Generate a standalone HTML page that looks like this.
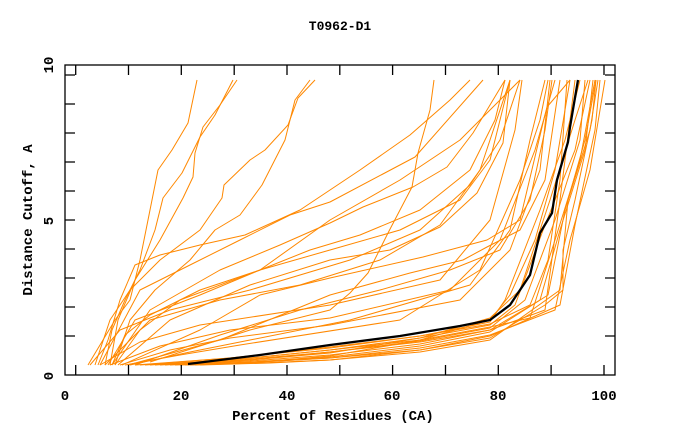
<!DOCTYPE html>
<html><head><meta charset="utf-8"><style>
html,body{margin:0;padding:0;background:#fff;}
svg text{font-family:"Liberation Mono","DejaVu Sans Mono",monospace;font-weight:bold;fill:#000;}
</style></head><body>
<svg width="680" height="440" viewBox="0 0 680 440" xmlns="http://www.w3.org/2000/svg">
<rect width="680" height="440" fill="#fff"/>
<text x="340" y="30" font-size="13" text-anchor="middle">T0962-D1</text>
<g fill="none" stroke="#ff8800" stroke-width="1" stroke-linejoin="round">
<polyline points="150,365 240,359 330,350 420,338 490,325 515,305 545,225 575,150 590,80"/>
<polyline points="160,365 250,360 330,352 420,341 490,328 525,300 555,220 580,140 585,80"/>
<polyline points="170,365 250,361 330,355 420,344 490,330 540,300 560,230 585,150 593,80"/>
<polyline points="175,365 250,362 330,357 420,346 490,332 548,295 565,210 590,130 598,80"/>
<polyline points="140,365 230,358 330,348 420,336 490,322 505,300 540,210 565,140 580,80"/>
<polyline points="180,365 260,362 330,358 420,348 490,335 555,310 570,240 590,170 605,80"/>
<polyline points="190,365 260,363 330,360 420,350 490,336 560,305 575,225 595,130 600,80"/>
<polyline points="165,365 250,360 330,353 420,338 490,318 520,290 550,200 575,120 588,80"/>
<polyline points="145,365 240,359 330,350 420,340 490,327 530,318 555,240 580,160 595,80"/>
<polyline points="200,365 270,363 330,360 420,352 490,340 560,290 568,200 585,140 596,80"/>
<polyline points="155,365 240,360 330,352 420,342 490,330 545,310 560,200 570,120 575,80"/>
<polyline points="185,365 260,362 330,356 420,340 490,320 510,295 535,240 555,170 570,80"/>
<polyline points="195,365 260,362 330,358 420,350 490,338 545,305 563,290 563,250 575,200 592,120 596,80"/>
<polyline points="135,365 230,358 330,347 420,336 490,324 530,305 548,260 560,180 567,80"/>
<polyline points="110,365 160,346 230,330 330,318 450,290 500,240 535,150 555,80"/>
<polyline points="120,365 170,350 230,338 330,325 460,300 510,250 540,170 550,80"/>
<polyline points="130,365 190,352 250,340 350,320 470,285 510,230 530,140 545,80"/>
<polyline points="100,365 140,342 200,325 330,305 440,280 490,220 515,130 522,80"/>
<polyline points="125,365 180,355 240,345 400,320 480,270 520,180 540,120 548,80"/>
<polyline points="90,365 120,330 170,310 250,290 350,260 420,230 470,185 500,140 520,80"/>
<polyline points="105,365 150,320 220,300 300,285 380,260 440,225 480,170 510,80"/>
<polyline points="115,365 140,330 180,300 260,270 330,250 400,230 460,200 490,160 510,80"/>
<polyline points="108,365 135,320 200,295 260,270 330,220 400,180 460,140 500,100 520,80"/>
<polyline points="100,365 140,290 190,265 240,240 290,215 330,202 415,157 483,80"/>
<polyline points="112,365 150,310 220,270 280,245 330,223 363,207 413,187 447,167 473,133 487,110 505,80"/>
<polyline points="118,365 170,320 250,285 330,260 390,250 440,227 477,193 503,143 510,80"/>
<polyline points="122,365 200,330 260,295 330,278 423,257 487,240 520,220 543,123 547,107 570,80"/>
<polyline points="150,362 250,330 330,310 350,293 368,273 388,233 412,187 418,153 430,110 432,95 434,80"/>
<polyline points="128,365 220,340 330,295 410,273 463,260 487,247 520,230 545,180 560,80"/>
<polyline points="88,365 100,345 115,320 130,300 140,260 150,210 158,170 172,150 188,123 197,80"/>
<polyline points="105,365 112,330 125,300 140,270 155,230 163,198 182,173 200,137 215,115 233,80"/>
<polyline points="110,365 118,320 135,280 160,240 183,198 193,177 195,153 203,127 220,105 237,80"/>
<polyline points="95,365 110,320 130,290 160,260 200,230 222,198 224,185 250,160 265,150 288,125 298,98 315,80"/>
<polyline points="115,365 130,320 155,290 190,260 215,230 240,215 262,185 285,140 295,100 310,80"/>
<polyline points="98,365 108,340 120,300 135,265 160,255 200,245 245,235 300,210 360,170 410,135 450,100 470,80"/>
<polyline points="112,365 125,335 150,315 200,290 260,270 310,250 360,235 420,210 470,170 495,120 505,80"/>
<polyline points="135,365 220,335 300,310 380,290 450,270 500,250 530,200 545,130 552,80"/>
</g>
<polyline fill="none" stroke="#000" stroke-width="2.3" stroke-linejoin="round" points="188,364 260,355 330,345 400,336 460,326 490,320 510,305 530,275 540,233 552,213 557,180 568,142 570,127 578,80"/>
<g stroke="#000" stroke-width="1.3" fill="none">
<rect x="65" y="65" width="550" height="310"/>
<path d="M75.7,375v-10M128.5,375v-10M181.3,375v-10M234.2,375v-10M287,375v-10M339.8,375v-10M392.6,375v-10M445.5,375v-10M498.3,375v-10M551.1,375v-10M604,375v-10
M75.7,65v10M128.5,65v10M181.3,65v10M234.2,65v10M287,65v10M339.8,65v10M392.6,65v10M445.5,65v10M498.3,65v10M551.1,65v10M604,65v10
M65,75h10M65,104h10M65,133h10M65,162h10M65,191h10M65,220h10M65,249h10M65,278h10M65,307h10M65,336h10
M615,75h-10M615,104h-10M615,133h-10M615,162h-10M615,191h-10M615,220h-10M615,249h-10M615,278h-10M615,307h-10M615,336h-10"/>
</g>
<g font-size="14" text-anchor="middle">
<text x="65" y="400">0</text>
<text x="181" y="400">20</text>
<text x="287" y="400">40</text>
<text x="392" y="400">60</text>
<text x="498" y="400">80</text>
<text x="604" y="400">100</text>
<text transform="translate(53,376) rotate(-90)">0</text>
<text transform="translate(53,221) rotate(-90)">5</text>
<text transform="translate(53,65) rotate(-90)">10</text>
<text x="333" y="420">Percent of Residues (CA)</text>
<text transform="translate(32,220) rotate(-90)">Distance Cutoff, A</text>
</g>
</svg>
</body></html>
